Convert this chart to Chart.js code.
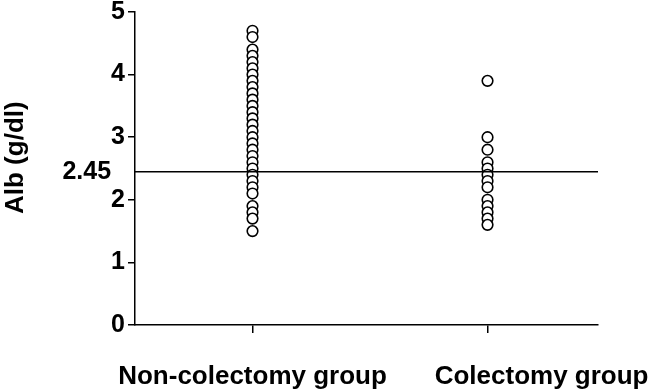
<!DOCTYPE html>
<html>
<head>
<meta charset="utf-8">
<script src="https://cdn.jsdelivr.net/npm/chart.js@4.4.0/dist/chart.umd.min.js"></script>
<style>
html, body { margin: 0; padding: 0; background: #fff; }
#wrap { width: 654px; height: 390px; }
</style>
</head>
<body>
<div id="wrap"><canvas id="c"></canvas></div>
<script>
const groups = ['Non-colectomy group', 'Colectomy group'];
const groupPos = [1, 3];
const labelPos = [1, 3.46];
const nonColectomy = [4.7, 4.6, 4.4, 4.3, 4.2, 4.1, 4.0, 3.9, 3.8, 3.7, 3.6, 3.5, 3.4, 3.3, 3.2, 3.1,
    3.0, 2.9, 2.8, 2.7, 2.6, 2.5, 2.4, 2.3, 2.2, 2.1, 1.9, 1.8, 1.7, 1.5];
const colectomy = [3.9, 3.0, 2.8, 2.6, 2.5, 2.4, 2.3, 2.2, 2.0, 1.9, 1.8, 1.7, 1.6];
const cutoff = 2.45;
const yTicks = [0, 1, 2, 2.45, 3, 4, 5];

const font = 'Arial, "Liberation Sans", Helvetica, sans-serif';

const pointStyle = {
    type: 'scatter',
    pointRadius: 5.3,
    pointBorderWidth: 1.6,
    pointBackgroundColor: '#fff',
    pointBorderColor: '#000',
    showLine: false,
    order: 1
};

const data = {
    datasets: [
        Object.assign({ label: groups[0], data: nonColectomy.map(v => ({ x: groupPos[0], y: v })) }, pointStyle),
        Object.assign({ label: groups[1], data: colectomy.map(v => ({ x: groupPos[1], y: v })) }, pointStyle),
        {
            type: 'line',
            label: 'cutoff',
            data: [{ x: 0, y: cutoff }, { x: 3.94, y: cutoff }],
            borderColor: '#000',
            borderWidth: 1.5,
            pointRadius: 0,
            order: 0
        }
    ]
};

// keep the axes from asking for extra room for overflowing labels
const noPad = s => { s.paddingLeft = 0; s.paddingRight = 0; s.paddingTop = 0; s.paddingBottom = 0; };

const config = {
    type: 'scatter',
    data: data,
    options: {
        responsive: true,
        maintainAspectRatio: false,
        animation: false,
        layout: { padding: { left: 0, right: 56, top: 12, bottom: 0 } },
        plugins: { legend: { display: false }, tooltip: { enabled: false } },
        scales: {
            x: {
                type: 'linear', position: 'bottom', min: 0, max: 3.94, weight: 0,
                afterBuildTicks: s => { s.ticks = groupPos.map(v => ({ value: v })); },
                afterFit: s => { s.height = 8; noPad(s); },
                ticks: { display: false },
                grid: { drawOnChartArea: false, tickLength: 8, tickColor: '#000', lineWidth: 1.5 },
                border: { color: '#000', width: 1.5 }
            },
            x2: {
                type: 'linear', position: 'bottom', min: 0, max: 3.94, weight: 1,
                afterBuildTicks: s => { s.ticks = labelPos.map(v => ({ value: v })); },
                afterFit: s => { s.height = 57; noPad(s); },
                grid: { display: false },
                border: { display: false },
                ticks: {
                    autoSkip: false, maxRotation: 0, padding: 20,
                    color: '#000',
                    font: { family: font, size: 26, weight: 'bold' },
                    callback: (v, i) => groups[i]
                }
            },
            y: {
                min: 0, max: 5,
                afterBuildTicks: s => { s.ticks = yTicks.map(v => ({ value: v })); },
                afterFit: s => { s.width = 135; noPad(s); },
                grid: {
                    drawOnChartArea: false, tickLength: 7, lineWidth: 1.5,
                    tickColor: c => (c.tick && c.tick.value === cutoff) ? 'rgba(0,0,0,0)' : '#000'
                },
                border: { color: '#000', width: 1.5 },
                ticks: {
                    padding: 3, color: '#000',
                    font: { family: font, size: 25, weight: 'bold' },
                    callback: v => v === cutoff ? '2.45\u00a0\u00a0' : v
                },
                title: {
                    display: true, text: '\u00a0\u00a0\u00a0Alb (g/dl)', color: '#000',
                    padding: { top: 0, bottom: 0 },
                    font: { family: font, size: 26, weight: 'bold' }
                }
            }
        }
    }
};

const chart = new Chart(document.getElementById('c'), config);
</script>
</body>
</html>
